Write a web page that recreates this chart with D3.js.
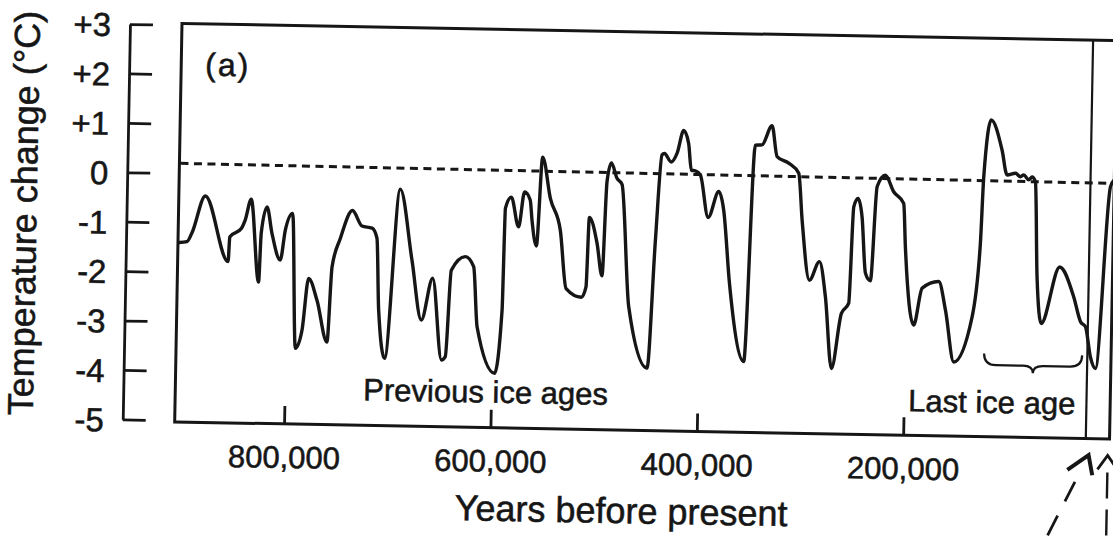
<!DOCTYPE html>
<html><head><meta charset="utf-8">
<script src="https://cdn.jsdelivr.net/npm/d3@7"></script>
<style>
html,body{margin:0;padding:0;background:#fff;}
svg{display:block;}
text{font-family:"Liberation Sans",Arial,Helvetica,sans-serif;fill:#161616;stroke:#161616;stroke-width:0.55px;}
</style></head><body>
<svg id="chart" width="1113" height="539"></svg>
<script>
// ---- data (years before present, temperature change °C) ----
const yearsBP = [905000,897300,892600,880300,857100,855900,844700,841200,835800,827200,825500,820300,815100,806600,802200,795400,790400,784300,778800,770300,759900,756300,748800,737500,728000,718200,713300,710400,703800,691600,679000,668900,658600,648700,645000,640700,627300,619100,614700,596900,590800,589400,583800,576300,571100,565500,563400,558700,554200,546000,535800,529200,514200,509900,507900,500000,494600,491400,487500,481800,476800,468200,449300,443500,438600,436300,429500,424000,418000,413000,409900,406000,401100,392800,383000,377900,371000,355800,348400,341900,332500,327100,315700,305800,301700,293600,284200,277800,270700,262000,255100,251900,247900,243700,239400,234500,229600,221800,213500,203600,201200,191800,184200,168300,161200,152300,135300,128600,126500,120300,109200,103900,95800,91000,87800,82900,79700,76400,73100,68300,51300,37200,30200,25300,20000,14900,3600,500];
const tempChange = [-1.40,-1.38,-1.20,-0.45,-1.77,-1.27,-1.09,-0.92,-0.50,-2.17,-1.18,-0.65,-1.18,-1.72,-1.11,-0.77,-3.50,-3.13,-2.08,-2.52,-3.36,-1.84,-1.26,-0.69,-1.00,-1.04,-1.24,-2.69,-3.67,-0.24,-1.67,-2.88,-2.03,-3.68,-3.61,-1.86,-1.58,-1.78,-3.00,-3.93,-2.65,-0.59,-0.36,-0.96,-0.25,-0.41,-0.82,-1.34,0.46,-0.37,-1.01,-2.19,-2.36,-2.15,-0.74,-1.26,-1.92,-0.01,0.37,0.06,-0.06,-2.53,-3.77,-1.18,0.55,0.58,0.41,0.59,1.05,0.79,0.25,0.24,0.16,-0.70,-0.17,-0.54,-2.02,-3.60,0.78,0.79,1.18,0.56,0.43,0.23,-0.72,-1.93,-1.55,-2.26,-3.71,-2.59,-2.38,-0.43,-0.26,-0.63,-1.77,-1.92,-0.01,0.22,-0.11,-0.34,-1.22,-2.80,-2.05,-1.91,-2.49,-3.53,-2.61,-1.12,0.23,1.38,0.77,0.27,0.31,0.24,0.28,0.18,0.24,0.15,-1.78,-2.72,-1.57,-2.17,-2.67,-2.77,-3.38,-3.61,0.07,0.20];
const refYears = [905000, 0];
const refTemps = [0.20, 0.14];
const xTickValues = [800000, 600000, 400000, 200000];
const xTickLabels = ["800,000", "600,000", "400,000", "200,000"];
const yTickValues = [3, 2, 1, 0, -1, -2, -3, -4, -5];
const yTickLabels = ["+3", "+2", "+1", "0", "-1", "-2", "-3", "-4", "-5"];
const dividerYears = [23000];
const arrowYears = [20000, 1500];
const braceYears = [123000, 28000];
const braceTemps = [-3.35, -3.58, -3.73];
const panelLabel = "(a)";
const noteLabels = ["Previous ice ages", "Last ice age"];
const xTitle = "Years before present";
const yTitle = "Temperature change (°C)";

// ---- drawing ----
const ink = "#161616";
const svg = d3.select("#chart");
svg.append("rect").attr("width", 1113).attr("height", 539).attr("fill", "#fff");
const g = svg.append("g").attr("transform", "rotate(1.05,183,23)");

const x = d3.scaleLinear().domain([906000, 0]).range([182, 1117]);
const y = d3.scaleLinear().domain([-5, 3]).range([420.4, 25]);

const boxTop = y(3) - 1.5, boxBottom = y(-5) + 1.6;

// y axis (separate, ticks pointing right)
const yAx = g.append("g").attr("transform", "translate(130,0)")
  .call(d3.axisRight(y).tickValues(yTickValues).tickFormat((d, i) => yTickLabels[i]).tickSize(23).tickSizeOuter(0));
yAx.select(".domain").attr("stroke", ink).attr("stroke-width", 2.8);
yAx.selectAll(".tick line").attr("stroke", ink).attr("stroke-width", 2.8);
yAx.selectAll(".tick text").attr("x", -19).attr("dy", "0.36em").attr("text-anchor", "end")
  .attr("font-size", 33).attr("fill", ink).attr("font-family", null);

// frame
g.append("rect").attr("x", x(906000)).attr("y", boxTop)
  .attr("width", x(0) - x(906000)).attr("height", boxBottom - boxTop)
  .attr("fill", "none").attr("stroke", ink).attr("stroke-width", 3);

// x axis (ticks pointing up inside the frame, labels below)
const xAx = g.append("g").attr("transform", `translate(0,${boxBottom})`)
  .call(d3.axisTop(x).tickValues(xTickValues).tickFormat((d, i) => xTickLabels[i]).tickSize(18).tickSizeOuter(0));
xAx.select(".domain").remove();
xAx.selectAll(".tick line").attr("stroke", ink).attr("stroke-width", 2.8);
xAx.selectAll(".tick text").attr("y", 44).attr("dy", 0).attr("font-size", 31).attr("fill", ink).attr("font-family", null);

// divider line
g.selectAll(".divider").data(dividerYears).enter().append("line")
  .attr("x1", d => x(d)).attr("x2", d => x(d)).attr("y1", boxTop).attr("y2", boxBottom)
  .attr("stroke", ink).attr("stroke-width", 2.2);

// dashed reference line
const refLine = d3.line().x(d => x(d[0])).y(d => y(d[1]));
g.append("path").attr("d", refLine(refYears.map((d, i) => [d, refTemps[i]])))
  .attr("fill", "none").attr("stroke", ink).attr("stroke-width", 3).attr("stroke-dasharray", "8,5.5");

// main curve
const line = d3.line().x(d => x(d[0])).y(d => y(d[1])).curve(d3.curveMonotoneX);
g.append("path").attr("d", line(yearsBP.map((d, i) => [d, tempChange[i]])))
  .attr("fill", "none").attr("stroke", ink).attr("stroke-width", 3.4)
  .attr("stroke-linejoin", "round").attr("stroke-linecap", "round");

// brace
const bL = x(braceYears[0]), bR = x(braceYears[1]), bC = (bL + bR) / 2;
const yE = y(braceTemps[0]), yM = y(braceTemps[1]), yT = y(braceTemps[2]);
g.append("path").attr("d",
  `M${bL},${yE} Q${bL},${yM} ${bL + 12},${yM} L${bC - 10},${yM} Q${bC},${yM} ${bC},${yT} Q${bC},${yM} ${bC + 10},${yM} L${bR - 12},${yM} Q${bR},${yM} ${bR},${yE}`)
  .attr("fill", "none").attr("stroke", ink).attr("stroke-width", 2.2);

// arrows
const ay = boxBottom + 16.5;
const a1 = x(arrowYears[0]);
g.append("path").attr("d", `M${a1 - 21},${ay + 15} L${a1},${ay} L${a1 + 4},${ay + 20}`)
  .attr("fill", "none").attr("stroke", ink).attr("stroke-width", 4).attr("stroke-linejoin", "miter");
g.append("line").attr("x1", a1 - 0.439 * 30).attr("y1", ay + 0.898 * 30)
  .attr("x2", a1 - 0.439 * 160).attr("y2", ay + 0.898 * 160)
  .attr("stroke", ink).attr("stroke-width", 2.8).attr("stroke-dasharray", "22,16");
const a2 = x(arrowYears[1]);
g.append("path").attr("d", `M${a2 - 10},${ay + 14} L${a2},${ay} L${a2 + 10},${ay + 14}`)
  .attr("fill", "none").attr("stroke", ink).attr("stroke-width", 2.8);
g.append("line").attr("x1", a2).attr("y1", ay + 17).attr("x2", a2).attr("y2", ay + 150)
  .attr("stroke", ink).attr("stroke-width", 2.4).attr("stroke-dasharray", "26,11");

// texts
g.append("text").attr("x", 206).attr("y", 75).attr("font-size", 32).attr("letter-spacing", 2).text(panelLabel);
g.append("text").attr("x", 370).attr("y", 397).attr("font-size", 31).text(noteLabels[0]);
g.append("text").attr("x", 915).attr("y", 398).attr("font-size", 31).text(noteLabels[1]);
g.append("text").attr("x", 630).attr("y", 515).attr("font-size", 36).attr("text-anchor", "middle").text(xTitle);
g.append("text").attr("transform", "translate(40,216) rotate(-90)").attr("font-size", 36)
  .attr("text-anchor", "middle").text(yTitle);
</script>
</body></html>
